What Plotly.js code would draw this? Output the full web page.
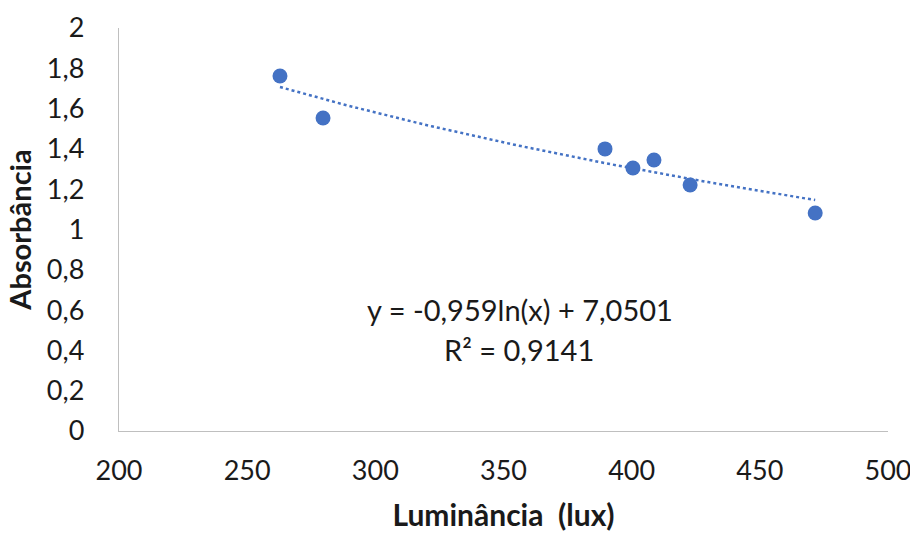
<!DOCTYPE html>
<html><head><meta charset="utf-8">
<script src="https://cdn.plot.ly/plotly-3.0.1.min.js"></script>
<style>html,body{margin:0;padding:0;background:#fff}#chart{width:910px;height:534px}</style>
</head><body><div id="chart"></div>
<script>
// Data
const luminance = [262.8, 279.6, 389.6, 400.5, 408.7, 422.8, 471.6];
const absorbance = [1.762, 1.553, 1.40, 1.305, 1.345, 1.221, 1.082];
// Logarithmic trendline as printed on the chart
const trendA = -0.959;
const trendB = 7.0501;
const trendLabel = ["y = -0,959ln(x) + 7,0501", "R² = 0,9141"];
const xTicks = [200, 250, 300, 350, 400, 450, 500];
const yTicks = [0, 0.2, 0.4, 0.6, 0.8, 1, 1.2, 1.4, 1.6, 1.8, 2];

const xMin = Math.min(...luminance), xMax = Math.max(...luminance);
const tx = [], ty = [];
for (let i = 0; i <= 60; i++) {
  const x = xMin + (xMax - xMin) * i / 60;
  tx.push(x); ty.push(trendA * Math.log(x) + trendB);
}
const blue = '#4472C4';
const font = 'Lato, "Liberation Sans", sans-serif';
const txt = '#1a1a1a';
const data = [
  {x: tx, y: ty, mode: 'lines', line: {color: blue, width: 2.5, dash: 'dot'}, hoverinfo: 'skip'},
  {x: luminance, y: absorbance, mode: 'markers', marker: {color: blue, size: 15}}
];
const layout = {
  width: 910, height: 534,
  margin: {l: 119, r: 22, t: 28, b: 103},
  paper_bgcolor: '#fff', plot_bgcolor: '#fff',
  showlegend: false,
  separators: ', ',
  font: {family: font, size: 26, color: txt},
  xaxis: {
    range: [199.999, 500.001], tickvals: xTicks, ticks: '', showgrid: false, zeroline: false,
    showline: true, linecolor: '#bfbfbf', linewidth: 1.3, ticklabeloverflow: 'allow',
    tickfont: {family: font, size: 27, color: txt}, ticklabelstandoff: 15,
    title: {text: 'Luminância  (lux)', font: {family: font, size: 30, color: txt, weight: 'bold'}, standoff: 20}
  },
  yaxis: {
    range: [0, 2], tickvals: yTicks, ticks: '', showgrid: false, zeroline: false,
    showline: true, linecolor: '#bfbfbf', linewidth: 1.3,
    tickfont: {family: font, size: 27, color: txt}, ticklabelstandoff: 28,
    title: {text: 'Absorbância', font: {family: font, size: 29, color: txt, weight: 'bold'}, standoff: 6}
  },
  annotations: [
    {x: 0.5215, y: 0.3027, xref: 'paper', yref: 'paper', xanchor: 'center', yanchor: 'middle',
     text: trendLabel[0], showarrow: false, font: {family: font, size: 29, color: txt}},
    {x: 0.5205, y: 0.201, xref: 'paper', yref: 'paper', xanchor: 'center', yanchor: 'middle',
     text: trendLabel[1], showarrow: false, font: {family: font, size: 29, color: txt}}
  ]
};
Plotly.newPlot('chart', data, layout, {displayModeBar: false, staticPlot: true});
</script></body></html>
